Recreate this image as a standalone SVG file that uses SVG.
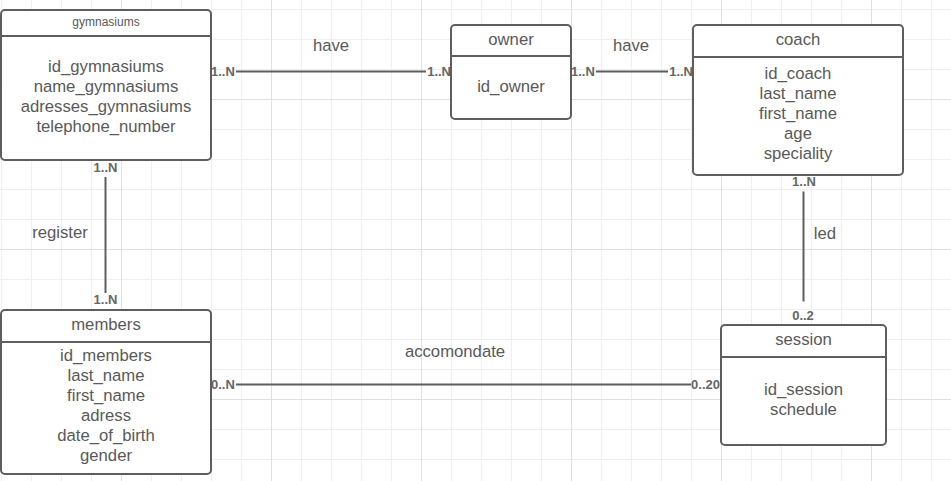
<svg xmlns="http://www.w3.org/2000/svg" width="951" height="481" viewBox="0 0 951 481">
<style>
.box{fill:#ffffff;stroke:#5e5e5e;stroke-width:2}
.hdr{stroke:#5e5e5e;stroke-width:2}
.t{font-family:"Liberation Sans",Arial,sans-serif;font-size:16.7px;fill:#595959;text-anchor:middle}
.ts{font-family:"Liberation Sans",Arial,sans-serif;font-size:12px;fill:#595959;text-anchor:middle}
.card{font-family:"Liberation Sans",Arial,sans-serif;font-size:13px;font-weight:bold;fill:#666666}
.conn{stroke:#5e5e5e;stroke-width:2;fill:none}
</style>
<defs>
<pattern id="minor" patternUnits="userSpaceOnUse" width="30" height="30">
<path d="M1.5 0V30M0 9.5H30" stroke="#efefef" stroke-width="1"/>
</pattern>
<pattern id="major" patternUnits="userSpaceOnUse" width="150" height="150">
<path d="M121.5 0V150M0 99.5H150" stroke="#e0e0e0" stroke-width="1"/>
</pattern>
</defs>
<rect width="951" height="481" fill="#ffffff"/>
<rect width="951" height="481" fill="url(#minor)"/>
<rect width="951" height="481" fill="url(#major)"/>

<g id="connectors">
<path class="conn" d="M236 71.5H426"/>
<path class="conn" d="M596 71.5H668"/>
<path class="conn" d="M105.5 177V293"/>
<path class="conn" d="M803.5 191.5V301.5"/>
<path class="conn" d="M236 384.5H691"/>
<text class="card" x="211" y="76">1..N</text>
<text class="card" x="451" y="76" text-anchor="end">1..N</text>
<text class="card" x="571" y="76">1..N</text>
<text class="card" x="693" y="76" text-anchor="end">1..N</text>
<text class="card" x="105.5" y="171.5" text-anchor="middle">1..N</text>
<text class="card" x="105.5" y="303.5" text-anchor="middle">1..N</text>
<text class="card" x="804" y="186" text-anchor="middle">1..N</text>
<text class="card" x="803" y="319.5" text-anchor="middle">0..2</text>
<text class="card" x="211" y="388.5">0..N</text>
<text class="card" x="720" y="388.5" text-anchor="end">0..20</text>
<text class="t" x="331" y="50.5">have</text>
<text class="t" x="631" y="50.5">have</text>
<text class="t" x="60" y="237.5">register</text>
<text class="t" x="825" y="238.5">led</text>
<text class="t" x="455" y="356.5">accomondate</text>
</g>

<g id="gymnasiums">
<rect class="box" x="1" y="10" width="210" height="150" rx="4"/>
<path class="hdr" d="M1 36H211"/>
<text class="ts" x="106" y="26">gymnasiums</text>
<text class="t" x="106" y="72.2">id_gymnasiums</text>
<text class="t" x="106" y="92.2">name_gymnasiums</text>
<text class="t" x="106" y="112.2">adresses_gymnasiums</text>
<text class="t" x="106" y="132.2">telephone_number</text>
</g>

<g id="owner">
<rect class="box" x="451" y="25" width="120" height="94" rx="4"/>
<path class="hdr" d="M451 56H571"/>
<text class="t" x="511" y="44.8">owner</text>
<text class="t" x="511" y="92.2">id_owner</text>
</g>

<g id="coach">
<rect class="box" x="693" y="25" width="210" height="150" rx="4"/>
<path class="hdr" d="M693 57H903"/>
<text class="t" x="798" y="44.5">coach</text>
<text class="t" x="798" y="78.8">id_coach</text>
<text class="t" x="798" y="98.8">last_name</text>
<text class="t" x="798" y="118.8">first_name</text>
<text class="t" x="798" y="138.8">age</text>
<text class="t" x="798" y="158.8">speciality</text>
</g>

<g id="session">
<rect class="box" x="721" y="325" width="165" height="120" rx="4"/>
<path class="hdr" d="M721 357H886"/>
<text class="t" x="803.5" y="344.5">session</text>
<text class="t" x="803.5" y="394.8">id_session</text>
<text class="t" x="803.5" y="414.8">schedule</text>
</g>

<g id="members">
<rect class="box" x="1" y="310" width="210" height="164" rx="4"/>
<path class="hdr" d="M1 342H211"/>
<text class="t" x="106" y="329.5">members</text>
<text class="t" x="106" y="361.2">id_members</text>
<text class="t" x="106" y="381.2">last_name</text>
<text class="t" x="106" y="401.2">first_name</text>
<text class="t" x="106" y="421.2">adress</text>
<text class="t" x="106" y="441.2">date_of_birth</text>
<text class="t" x="106" y="461.2">gender</text>
</g>
</svg>
